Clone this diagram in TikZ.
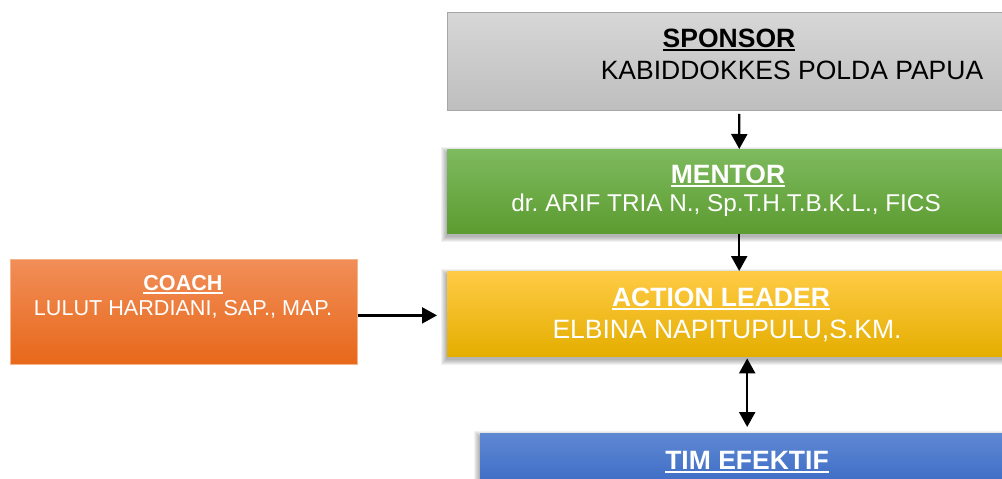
\documentclass[tikz,border=0pt]{standalone}
\usepackage{fontspec}
\setmainfont{Liberation Sans}
\usetikzlibrary{arrows.meta}
\pgfdeclarelayer{background}
\pgfsetlayers{background,main}

\definecolor{sponsortop}{HTML}{D7D7D7}
\definecolor{sponsorbot}{HTML}{BEBEBE}
\definecolor{sponsorline}{HTML}{A6A6A6}
\definecolor{mentortop}{HTML}{7EBA5F}
\definecolor{mentorbot}{HTML}{5C9C30}
\definecolor{leadtop}{HTML}{FFCB45}
\definecolor{leadmid}{HTML}{FFC000}
\definecolor{leadbot}{HTML}{E4AE00}
\definecolor{timtop}{HTML}{5F88D2}
\definecolor{timbot}{HTML}{3868C4}
\definecolor{coachtop}{HTML}{F18E58}
\definecolor{coachbot}{HTML}{E7681A}
\definecolor{coachline}{HTML}{F6B48A}

% bold title with a heavy underline
\newcommand\titleul[1]{\setbox0\hbox{\bfseries #1}\rlap{\rule[-3.6pt]{\wd0}{1.9pt}}\box0}

\tikzset{
  box/.style={rectangle, anchor=north west, inner sep=0pt},
  big/.style={font=\fontsize{26.5}{30}\selectfont, anchor=base, inner sep=0pt},
  mid/.style={font=\fontsize{24.3}{28}\selectfont, anchor=base, inner sep=0pt},
  small/.style={font=\fontsize{21.6}{25}\selectfont, anchor=base, inner sep=0pt},
  tip/.tip={Triangle[length=15pt,width=16pt]},
  link/.style={line width=2.3pt, -tip},
  twolink/.style={line width=2.3pt, tip-tip},
  shadowlayer/.style={fill=black, opacity=0.055},
}

\begin{document}
\frenchspacing
\begin{tikzpicture}[x=1pt,y=-1pt]
\useasboundingbox (0,0) rectangle (1002,479);
\clip (0,0) rectangle (1002,479);

% boxes
\node[box, minimum width=584pt, minimum height=98pt,
      top color=sponsortop, bottom color=sponsorbot, draw=sponsorline, line width=0.8pt]
      (sponsor) at (447,12) {};
\node[box, minimum width=584pt, minimum height=84pt,
      top color=mentortop, bottom color=mentorbot]
      (mentor) at (447,149) {};
\node[box, minimum width=584pt, minimum height=85pt,
      top color=leadtop, middle color=leadmid, bottom color=leadbot]
      (lead) at (447,271) {};
\node[box, minimum width=534pt, minimum height=60pt,
      top color=timtop, bottom color=timbot]
      (tim) at (480,433) {};
\node[box, minimum width=347pt, minimum height=105pt,
      top color=coachtop, bottom color=coachbot, draw=coachline, line width=0.8pt]
      (coach) at (10,259) {};

% soft shadows under the coloured boxes, built from stacked translucent layers
\begin{pgfonlayer}{background}
\foreach \n in {mentor,lead,tim}
  \foreach \k in {0.5,1.5,...,5.5}
    \fill[shadowlayer] ([shift={(-1-\k,3+\k)}]\n.south west)
                       rectangle ([shift={(-1+\k,3-\k)}]\n.north east);
\end{pgfonlayer}

% texts
\node[big] (sponsort) at (729,47.5) {\titleul{SPONSOR}};
\node[big] (sponsorn) at (792,79.5) {KABIDDOKKES POLDA PAPUA};
\node[big, text=white] (mentort) at (728,183.5) {\titleul{MENTOR}};
\node[mid, text=white] (mentorn) at (726,211.5) {dr. ARIF TRIA N., Sp.T.H.T.B.K.L., FICS};
\node[big, text=white] (leadt) at (721,306.5) {\titleul{ACTION LEADER}};
\node[big, text=white] (leadn) at (727,338) {ELBINA NAPITUPULU,S.KM.};
\node[big, text=white] (timt) at (747,469.5) {\titleul{TIM EFEKTIF}};
\node[small, text=white] (coacht) at (183,290) {\titleul{COACH}};
\node[small, text=white] (coachn) at (183,315.5) {LULUT HARDIANI, SAP., MAP.};

% connectors
\draw[link, shorten <=3pt] (sponsor) -- (mentor);
\draw[link, shorten <=1pt] (mentor) -- (lead);
\draw[twolink, shorten <=2pt, shorten >=6pt] (lead.south -| tim.north) -- (tim.north);
\draw[link, shorten >=10pt] ([yshift=-3.5pt]coach.east) -- ([yshift=-3.5pt]coach.east -| lead.west);
\end{tikzpicture}
\end{document}
